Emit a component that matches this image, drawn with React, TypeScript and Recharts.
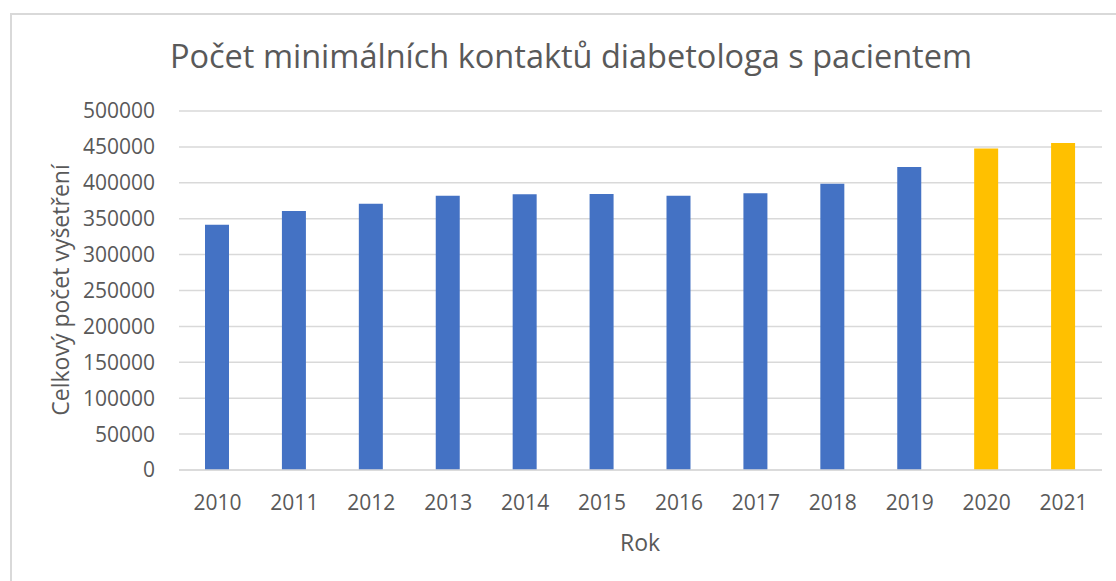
import React from "react";
import { BarChart, Bar, XAxis, YAxis, CartesianGrid, Cell } from "recharts";

const years = ["2010", "2011", "2012", "2013", "2014", "2015", "2016", "2017", "2018", "2019", "2020", "2021"];
const visits = [341600, 360800, 370900, 382100, 383900, 384400, 382100, 385300, 398800, 422100, 447600, 455600];
const highlightedYears = ["2020", "2021"];
const yTicks = [0, 50000, 100000, 150000, 200000, 250000, 300000, 350000, 400000, 450000, 500000];

const title = "Počet minimálních kontaktů diabetologa s pacientem";
const yLabel = "Celkový počet vyšetření";
const xLabel = "Rok";

const data = years.map((y, i) => ({ year: y, value: visits[i] }));

const FONT = "'Open Sans', 'Noto Sans', sans-serif";
const TXT = "#595959";

export default function App() {
  return (
    <div style={{ position: "absolute", left: 0, top: 0, width: 1116, height: 581, background: "#fff", overflow: "hidden", fontFamily: FONT }}>
      <div style={{ position: "absolute", left: 10, top: 13, width: 1200, height: 700, border: "2px solid #d9d9d9", boxSizing: "border-box" }} />
      <div style={{ position: "absolute", left: 0, width: 1142, top: 33, textAlign: "center", fontSize: 32.5, color: TXT, whiteSpace: "nowrap" }}>{title}</div>
      <div style={{ position: "absolute", left: 60, top: 290, transform: "translate(-50%, -50%) rotate(-90deg)", fontSize: 23, color: TXT, whiteSpace: "nowrap" }}>{yLabel}</div>
      <div style={{ position: "absolute", left: 640, top: 542, transform: "translate(-50%, -50%)", fontSize: 23, color: TXT, whiteSpace: "nowrap" }}>{xLabel}</div>
      <div style={{ position: "absolute", left: 0, top: 0 }}>
        <BarChart width={1116} height={581} data={data} margin={{ top: 111, right: 14, left: 79, bottom: 71 }}>
          <CartesianGrid horizontal vertical={false} stroke="#d9d9d9" strokeWidth={1.5} />
          <XAxis
            dataKey="year"
            height={40}
            tickLine={false}
            axisLine={{ stroke: "#d9d9d9", strokeWidth: 1.5 }}
            tick={{ fill: TXT, fontSize: 21, fontFamily: FONT }}
            tickMargin={19}
            interval={0}
          />
          <YAxis
            width={100}
            domain={[0, 500000]}
            ticks={yTicks}
            axisLine={false}
            tickLine={false}
            tick={{ fill: TXT, fontSize: 21, fontFamily: FONT }}
            tickMargin={18}
            interval={0}
          />
          <Bar dataKey="value" barSize={24} isAnimationActive={false}>
            {data.map((d) => (
              <Cell key={d.year} fill={highlightedYears.includes(d.year) ? "#FFC000" : "#4472C4"} />
            ))}
          </Bar>
        </BarChart>
      </div>
    </div>
  );
}
